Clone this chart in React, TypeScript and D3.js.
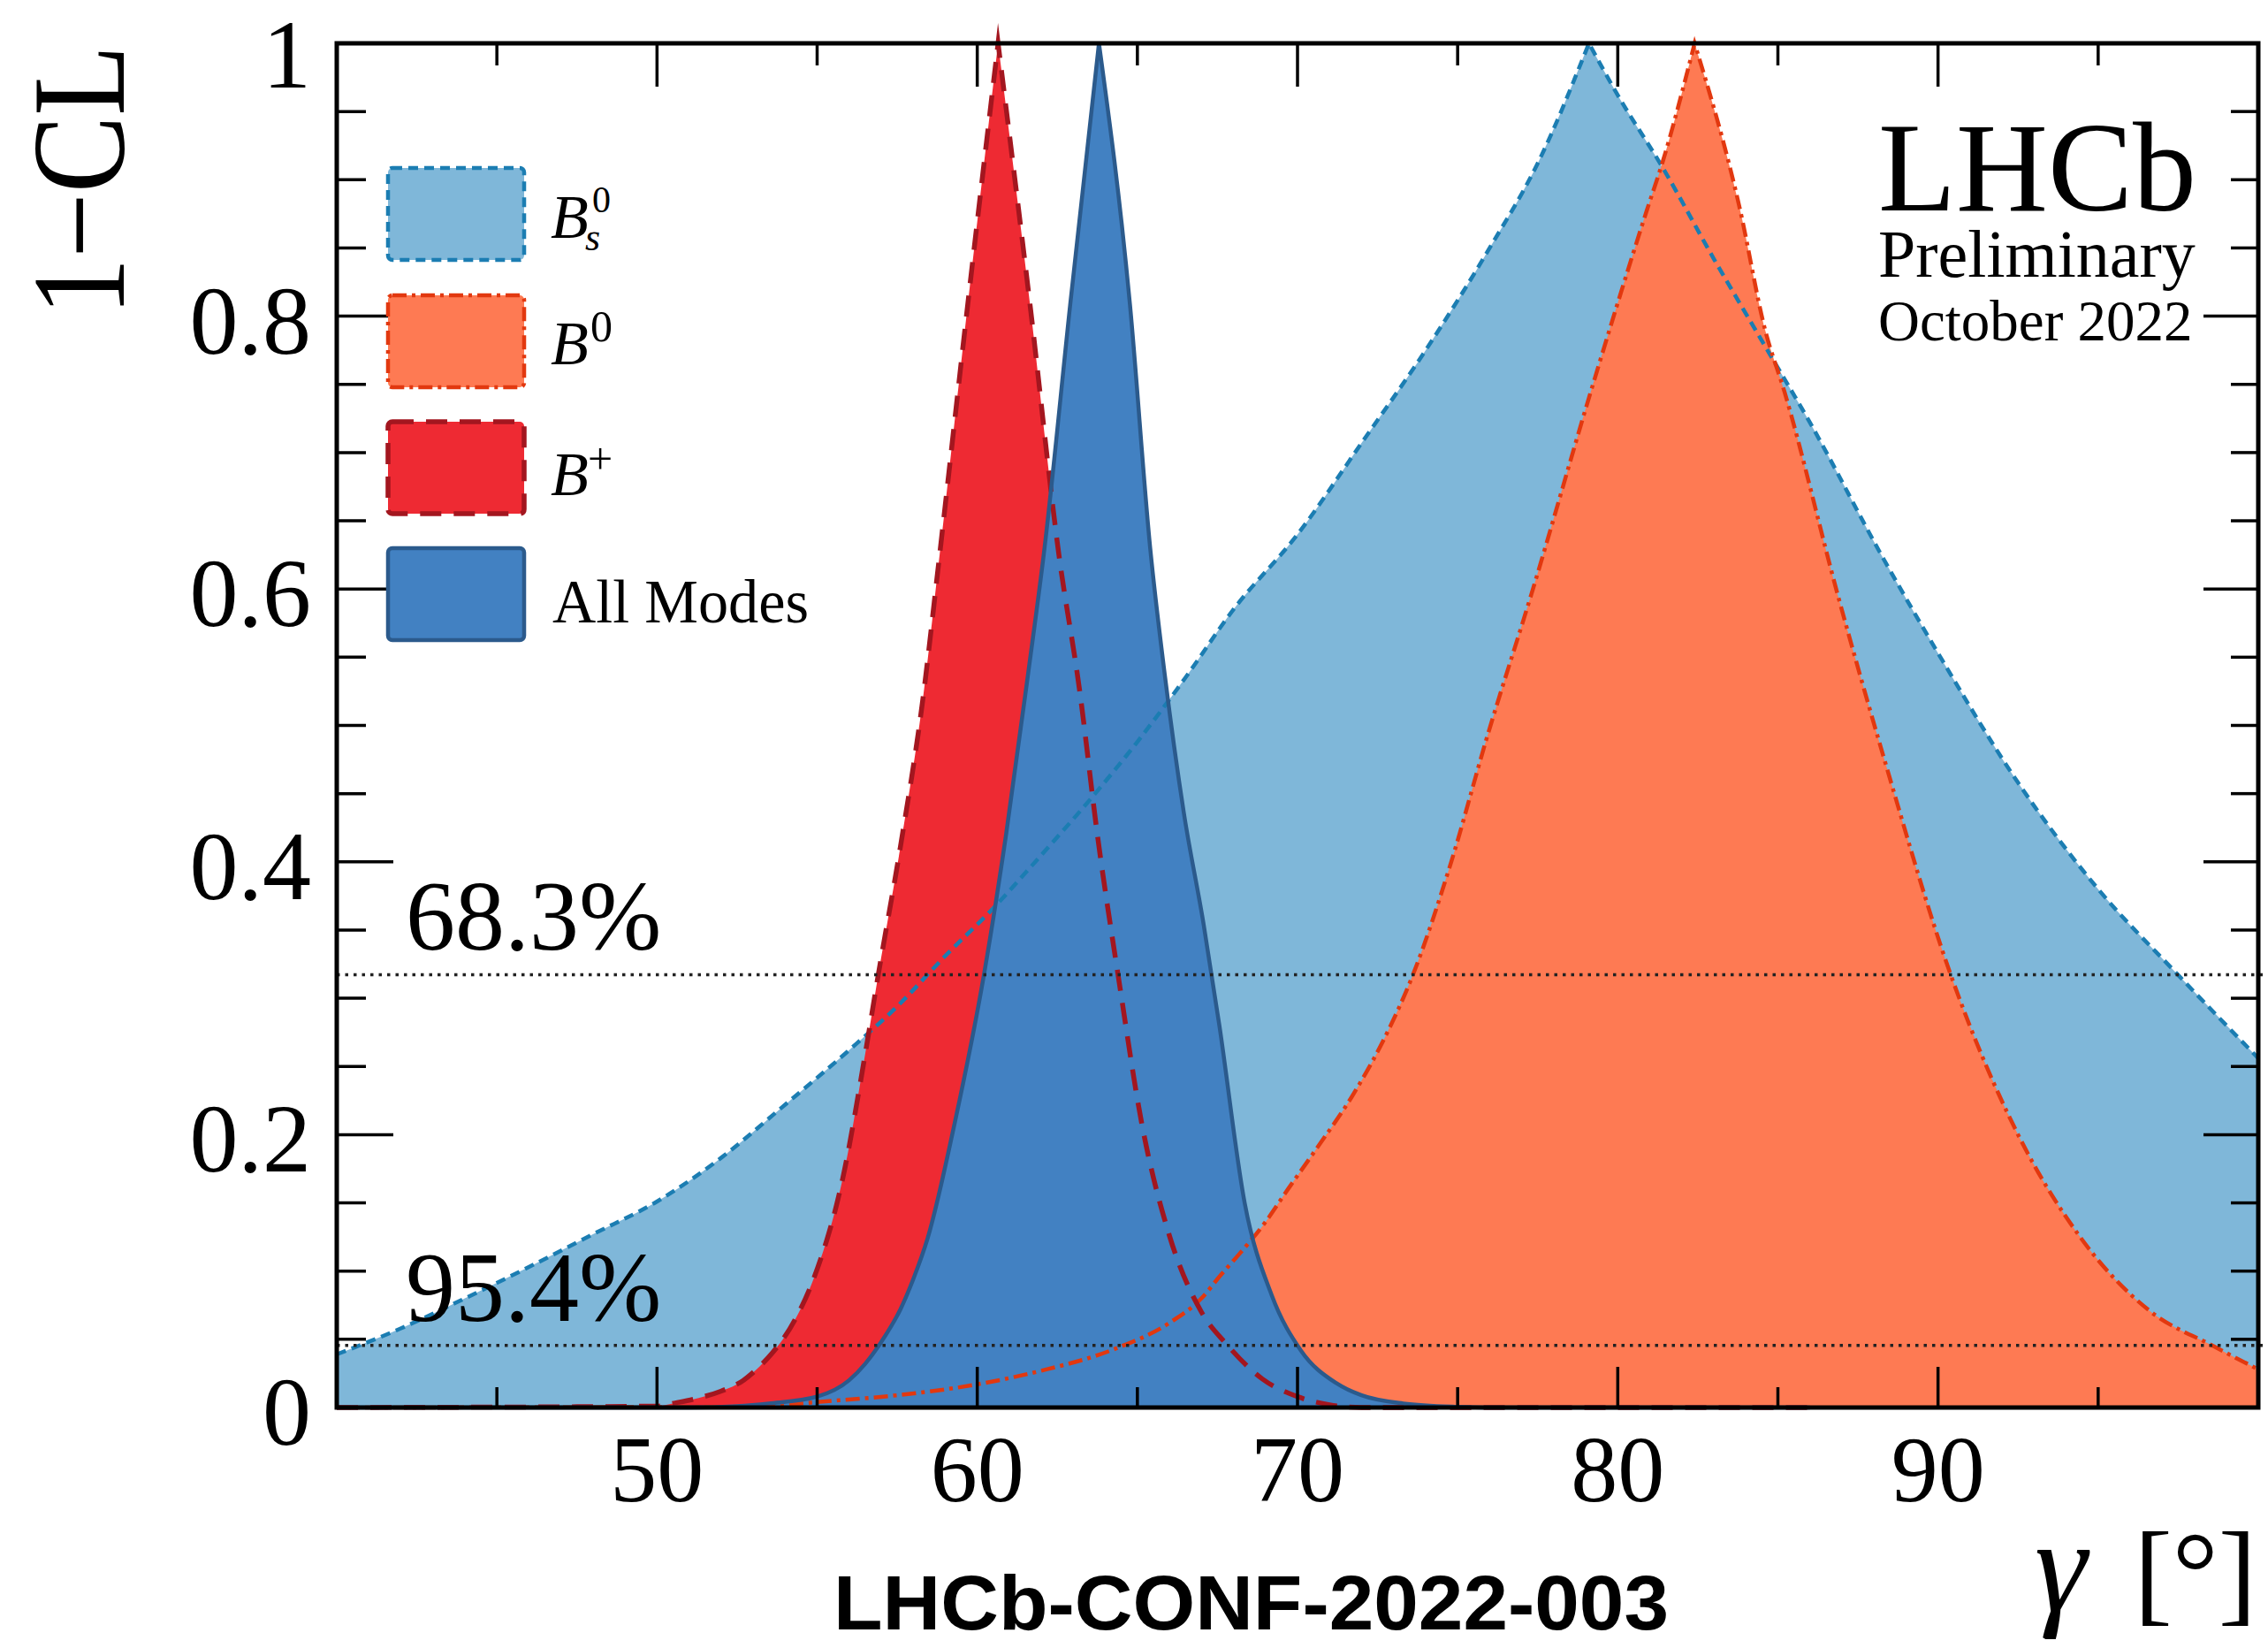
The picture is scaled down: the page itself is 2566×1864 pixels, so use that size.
import React, { useMemo } from "react";
import * as d3 from "d3";

// 1-CL scans of gamma (degrees), each split into a rising and a falling branch at its peak.
const BS_RISE: [number, number][] = [
  [40.0, 0.039], [42.0, 0.058], [44.0, 0.080], [46.0, 0.103], [48.0, 0.127],
  [50.0, 0.151], [52.0, 0.183], [54.0, 0.222], [56.0, 0.262], [57.5, 0.294],
  [59.0, 0.331], [60.5, 0.366], [62.0, 0.405], [63.5, 0.445], [65.0, 0.488],
  [66.5, 0.535], [68.0, 0.585], [70.0, 0.640], [72.0, 0.707], [74.0, 0.775],
  [76.0, 0.850], [77.5, 0.912], [79.1, 1.0],
];
const BS_FALL: [number, number][] = [
  [79.1, 1.0], [80.0, 0.962], [81.4, 0.909], [83.0, 0.842], [84.6, 0.778],
  [86.0, 0.722], [88.3, 0.622], [90.0, 0.553], [92.5, 0.458], [95.0, 0.380],
  [97.5, 0.317], [100.0, 0.256],
];

const B0_RISE: [number, number][] = [
  [40.0, 0.0], [52.0, 0.0005], [54.0, 0.002], [55.0, 0.004], [57.5, 0.009],
  [60.0, 0.017], [62.0, 0.027], [64.3, 0.043], [66.0, 0.062], [67.0, 0.080],
  [67.6, 0.097], [68.2, 0.113], [69.0, 0.136], [69.7, 0.160], [70.6, 0.190],
  [71.7, 0.228], [72.7, 0.270], [73.6, 0.317], [74.8, 0.400], [75.9, 0.490],
  [77.3, 0.596], [79.2, 0.748], [80.9, 0.877], [81.4, 0.913], [82.4, 1.0],
];
const B0_FALL: [number, number][] = [
  [82.4, 1.0], [83.8, 0.880], [84.6, 0.790], [85.2, 0.745], [86.9, 0.593],
  [88.3, 0.477], [90.4, 0.317], [92.5, 0.200], [94.5, 0.123], [96.6, 0.071],
  [98.6, 0.045], [100.0, 0.028],
];

const BP_RISE: [number, number][] = [
  [40.0, 0.0], [50.0, 0.001], [50.6, 0.0035], [51.3, 0.007], [52.0, 0.012],
  [52.7, 0.020], [53.2, 0.030], [53.6, 0.040], [54.3, 0.064], [54.9, 0.095],
  [55.8, 0.168], [56.5, 0.259], [56.9, 0.316], [57.6, 0.411], [58.3, 0.519],
  [58.8, 0.620], [59.7, 0.808], [60.65, 1.0],
];
const BP_FALL: [number, number][] = [
  [60.65, 1.0], [61.65, 0.808], [62.55, 0.625], [63.2, 0.525], [63.75, 0.420],
  [64.43, 0.312], [65.13, 0.209], [66.0, 0.126], [67.0, 0.070], [67.8, 0.046],
  [68.9, 0.021], [70.0, 0.008], [71.0, 0.002], [72.0, 0.0], [86.0, 0.0],
];

const ALL_RISE: [number, number][] = [
  [40.0, 0.0], [51.0, 0.0], [52.5, 0.001], [53.5, 0.003], [55.0, 0.008],
  [56.0, 0.020], [56.5, 0.032], [57.0, 0.048], [57.6, 0.072], [58.0, 0.094],
  [58.45, 0.124], [59.3, 0.209], [60.2, 0.316], [60.9, 0.420], [61.6, 0.540],
  [62.1, 0.630], [62.9, 0.808], [63.8, 1.0],
];
const ALL_FALL: [number, number][] = [
  [63.8, 1.0], [64.77, 0.808], [65.4, 0.630], [65.84, 0.540], [66.45, 0.436],
  [67.07, 0.354], [67.56, 0.280], [68.35, 0.150], [69.2, 0.082], [70.1, 0.042],
  [71.2, 0.018], [72.0, 0.009], [73.3, 0.003], [75.0, 0.0005], [76.0, 0.0],
  [86.0, 0.0],
];

const X_MAJOR = [50, 60, 70, 80, 90];
const X_MINOR = [45, 55, 65, 75, 85, 95];
const Y_MAJOR = [0, 0.2, 0.4, 0.6, 0.8, 1];
const Y_MAJOR_LABELS = ["0", "0.2", "0.4", "0.6", "0.8", "1"];
const Y_MINOR = [0.05, 0.1, 0.15, 0.25, 0.3, 0.35, 0.45, 0.5, 0.55, 0.65, 0.7, 0.75, 0.85, 0.9, 0.95];

const CL_LEVELS = [0.3173, 0.0455];
const CL_LABELS = ["68.3%", "95.4%"];

const SERIF = "'Liberation Serif', 'Times New Roman', Times, serif";
const SANS = "'Liberation Sans', Arial, Helvetica, sans-serif";

type Style = { fill: string; stroke: string; width: number; dash: string | undefined; miter: number };

const STYLES: Record<string, Style> = {
  bs: { fill: "#7fb7d9", stroke: "#1b7db2", width: 4.5, dash: "11 7", miter: 4 },
  b0: { fill: "#fe7a53", stroke: "#e2380f", width: 4.5, dash: "16 6 4 6", miter: 20 },
  bp: { fill: "#ee2a33", stroke: "#a3161f", width: 5.5, dash: "24 14", miter: 20 },
  all: { fill: "#4281c2", stroke: "#2b5a8c", width: 4.5, dash: undefined, miter: 4 },
};

export default function App() {
  const W = 2566;
  const H = 1864;
  const x = d3.scaleLinear().domain([40, 100]).range([381, 2555]);
  const y = d3.scaleLinear().domain([0, 1]).range([1592, 49]);

  const paths = useMemo(() => {
    const line = d3
      .line<[number, number]>()
      .x((d) => x(d[0]))
      .y((d) => y(d[1]))
      .curve(d3.curveMonotoneX);
    const build = (rise: [number, number][], fall: [number, number][]) => {
      const outline = (line(rise) || "") + (line(fall) || "").replace(/^M/, "L");
      const x0 = x(rise[0][0]);
      const x1 = x(fall[fall.length - 1][0]);
      const area = `${outline}L${x1},${y(0)}L${x0},${y(0)}Z`;
      return { outline, area };
    };
    return {
      bs: build(BS_RISE, BS_FALL),
      b0: build(B0_RISE, B0_FALL),
      bp: build(BP_RISE, BP_FALL),
      all: build(ALL_RISE, ALL_FALL),
    };
  }, []);

  const order = ["bs", "b0", "bp", "all"] as const;

  const x0 = x(40);
  const x1 = x(100);
  const yTop = y(1);
  const yBot = y(0);

  const legendRows = [
    { key: "bs", top: 190 },
    { key: "b0", top: 334 },
    { key: "bp", top: 477 },
    { key: "all", top: 620 },
  ] as const;

  return (
    <svg
      width={W}
      height={H}
      viewBox={`0 0 ${W} ${H}`}
      style={{ position: "absolute", left: 0, top: 0, display: "block", background: "#fff" }}
    >
      <rect x={0} y={0} width={W} height={H} fill="#fff" />

      {/* filled scan areas */}
      {order.map((k) => (
        <path key={`f-${k}`} d={paths[k].area} fill={STYLES[k].fill} stroke="none" />
      ))}
      {/* scan outlines */}
      {order.map((k) => (
        <path
          key={`l-${k}`}
          d={paths[k].outline}
          fill="none"
          stroke={STYLES[k].stroke}
          strokeWidth={STYLES[k].width}
          strokeDasharray={STYLES[k].dash}
          strokeMiterlimit={STYLES[k].miter}
          strokeLinejoin="miter"
        />
      ))}

      {/* confidence-level reference lines */}
      {CL_LEVELS.map((v) => (
        <line
          key={`cl-${v}`}
          x1={x0}
          x2={x1 + 6}
          y1={y(v)}
          y2={y(v)}
          stroke="#222"
          strokeWidth={3.5}
          strokeDasharray="3.5 6"
        />
      ))}
      {CL_LEVELS.map((v, i) => (
        <text
          key={`cll-${v}`}
          x={459}
          y={i === 0 ? 1074 : 1494}
          fontFamily={SERIF}
          fontSize={112}
          fill="#000"
        >
          {CL_LABELS[i]}
        </text>
      ))}

      {/* ticks */}
      <g stroke="#000" strokeWidth={3.5}>
        {X_MAJOR.map((t) => (
          <g key={`xM-${t}`}>
            <line x1={x(t)} x2={x(t)} y1={yBot} y2={yBot - 46} />
            <line x1={x(t)} x2={x(t)} y1={yTop} y2={yTop + 49} />
          </g>
        ))}
        {X_MINOR.map((t) => (
          <g key={`xm-${t}`}>
            <line x1={x(t)} x2={x(t)} y1={yBot} y2={yBot - 23} />
            <line x1={x(t)} x2={x(t)} y1={yTop} y2={yTop + 25} />
          </g>
        ))}
        {Y_MAJOR.map((t) => (
          <g key={`yM-${t}`}>
            <line x1={x0} x2={x0 + 64} y1={y(t)} y2={y(t)} />
            <line x1={x1} x2={x1 - 62} y1={y(t)} y2={y(t)} />
          </g>
        ))}
        {Y_MINOR.map((t) => (
          <g key={`ym-${t}`}>
            <line x1={x0} x2={x0 + 33} y1={y(t)} y2={y(t)} />
            <line x1={x1} x2={x1 - 31} y1={y(t)} y2={y(t)} />
          </g>
        ))}
      </g>

      {/* frame */}
      <rect
        x={x0}
        y={yTop}
        width={x1 - x0}
        height={yBot - yTop}
        fill="none"
        stroke="#000"
        strokeWidth={5}
      />

      {/* tick labels */}
      {Y_MAJOR.map((t, i) => (
        <text
          key={`yl-${t}`}
          x={352}
          y={Math.max(y(t) + 42, 99)}
          textAnchor="end"
          fontFamily={SERIF}
          fontSize={110}
          fill="#000"
        >
          {Y_MAJOR_LABELS[i]}
        </text>
      ))}
      {X_MAJOR.map((t) => (
        <text
          key={`xl-${t}`}
          x={x(t)}
          y={1698}
          textAnchor="middle"
          fontFamily={SERIF}
          fontSize={106}
          fill="#000"
        >
          {t}
        </text>
      ))}

      {/* axis titles */}
      <text
        transform="translate(140,357) rotate(-90)"
        fontFamily={SERIF}
        fontSize={150}
        textLength={306}
        lengthAdjust="spacingAndGlyphs"
        fill="#000"
      >
        1−CL
      </text>
      <text x={2302} y={1822} fontFamily={SERIF} fontStyle="italic" fontSize={150} fill="#000">
        γ
      </text>
      <text x={2553} y={1822} textAnchor="end" fontFamily={SERIF} fontSize={130} fill="#000">
        [°]
      </text>

      {/* legend */}
      {legendRows.map((r) => {
        const s = STYLES[r.key];
        return (
          <rect
            key={`lg-${r.key}`}
            x={439}
            y={r.top}
            width={154}
            height={104}
            rx={5}
            fill={s.fill}
            stroke={s.stroke}
            strokeWidth={s.width}
            strokeDasharray={s.dash}
          />
        );
      })}
      <g fontFamily={SERIF} fill="#000">
        <text x={623} y={269} fontSize={70} fontStyle="italic">B</text>
        <text x={662} y={283} fontSize={44} fontStyle="italic">s</text>
        <text x={670} y={240} fontSize={42}>0</text>

        <text x={623} y={412} fontSize={70} fontStyle="italic">B</text>
        <text x={668} y={386} fontSize={50}>0</text>

        <text x={623} y={560} fontSize={70} fontStyle="italic">B</text>
        <text x={665} y={536} fontSize={50}>+</text>

        <text x={625} y={704} fontSize={70} textLength={290} lengthAdjust="spacingAndGlyphs">
          All Modes
        </text>
      </g>

      {/* experiment label */}
      <g fontFamily={SERIF} fill="#000">
        <text x={2125} y={238} fontSize={144}>LHCb</text>
        <text x={2125} y={313} fontSize={76}>Preliminary</text>
        <text x={2125} y={385} fontSize={65}>October 2022</text>
      </g>

      <text
        x={943}
        y={1843}
        fontFamily={SANS}
        fontWeight="bold"
        fontSize={88}
        textLength={945}
        lengthAdjust="spacingAndGlyphs"
        fill="#000"
      >
        LHCb-CONF-2022-003
      </text>
    </svg>
  );
}
